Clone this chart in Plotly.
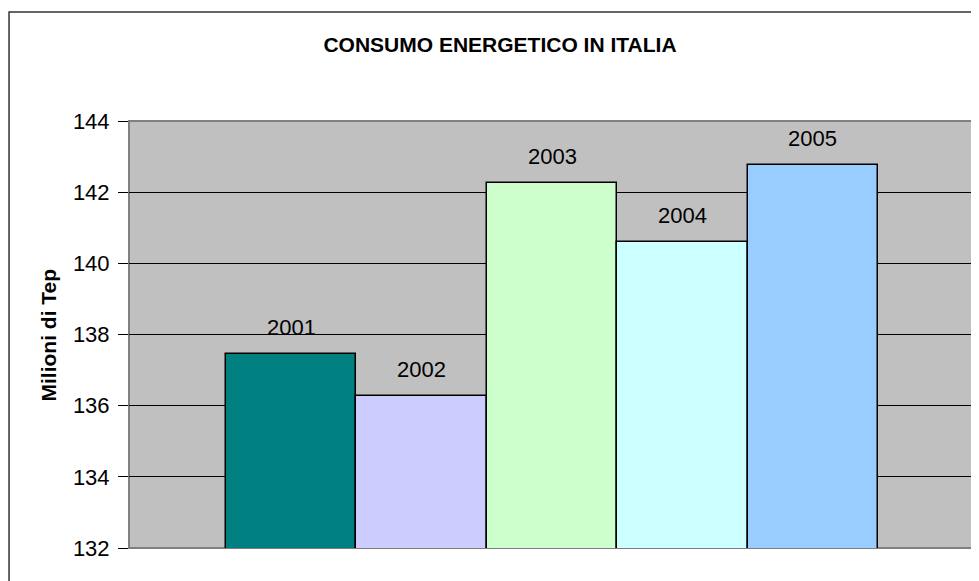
import plotly.graph_objects as go

years = ["2001", "2002", "2003", "2004", "2005"]
consumo_mtep = [137.45, 136.27, 142.27, 140.59, 142.77]
bar_colors = ["#008080", "#CCCCFF", "#CCFFCC", "#CCFFFF", "#99CCFF"]
y_ticks = [132, 134, 136, 138, 140, 142, 144]

FONT = "Liberation Sans, Arial, sans-serif"

# the page body keeps its default 8px margin, so the figure is drawn 8px
# smaller than the window and every pixel position below is figure-relative
WIDTH, HEIGHT = 979 - 8, 581 - 8

fig = go.Figure()
fig.add_trace(
    go.Bar(
        x=years,
        y=consumo_mtep,
        base=0,
        width=1.0,
        marker={"color": bar_colors, "line": {"color": "#000000", "width": 1.5}},
        hoverinfo="x+y",
        showlegend=False,
    )
)

# year labels above each bar (category axis: annotations use the category index)
for idx, (year, value) in enumerate(zip(years, consumo_mtep)):
    fig.add_annotation(
        x=idx,
        y=value,
        text=year,
        showarrow=False,
        yanchor="bottom",
        yshift=12,
        font={"family": FONT, "size": 22, "color": "#000000"},
    )

fig.add_annotation(
    text="<b>Milioni di Tep</b>",
    xref="paper",
    yref="paper",
    x=-0.0946,
    y=0.5,
    xanchor="center",
    yanchor="middle",
    textangle=-90,
    showarrow=False,
    font={"family": FONT, "size": 21, "color": "#000000"},
)

# plot area frame, between grid and bars
fig.add_shape(
    type="rect",
    xref="paper",
    yref="paper",
    x0=0,
    x1=1,
    y0=0,
    y1=1,
    line={"color": "#808080", "width": 2},
    layer="between",
)
# chart area frame (runs off the right and bottom of the picture)
fig.add_shape(
    type="rect",
    xref="paper",
    yref="paper",
    x0=-0.1418,
    x1=1.05,
    y0=-0.2,
    y1=1.2553,
    line={"color": "#333333", "width": 1.5},
    layer="above",
)

fig.update_layout(
    width=WIDTH,
    height=HEIGHT,
    margin={"l": 121, "r": 4, "t": 113, "b": 33},
    paper_bgcolor="#FFFFFF",
    plot_bgcolor="#C0C0C0",
    title={
        "text": "<b>CONSUMO ENERGETICO IN ITALIA</b>",
        "x": 492 / WIDTH,
        "xref": "container",
        "xanchor": "center",
        "y": 1 - 37 / HEIGHT,
        "yref": "container",
        "yanchor": "middle",
        "font": {"family": FONT, "size": 21, "color": "#000000"},
    },
    xaxis={
        "type": "category",
        "range": [-1.245, 5.245],
        "showticklabels": False,
        "showgrid": False,
        "ticks": "",
        "showline": False,
        "zeroline": False,
    },
    yaxis={
        "range": [132, 144],
        "tickvals": y_ticks,
        "ticks": "outside",
        "ticklen": 10,
        "tickcolor": "#000000",
        "tickwidth": 1,
        "ticklabelstandoff": 4,
        "tickfont": {"family": FONT, "size": 22, "color": "#000000"},
        "showgrid": True,
        "gridcolor": "#000000",
        "gridwidth": 1,
        "zeroline": False,
        "showline": False,
    },
    bargap=0,
)

fig.write_html("out.html")
